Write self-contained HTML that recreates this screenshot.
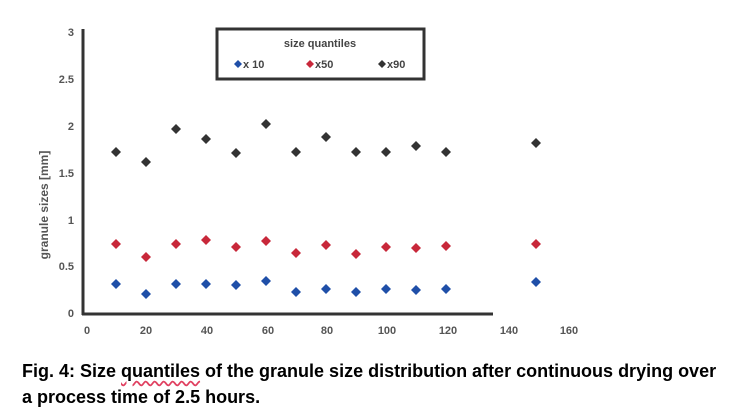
<!DOCTYPE html>
<html><head><style>
body{margin:0;background:#fff;width:735px;height:415px;overflow:hidden;position:relative;font-family:"Liberation Sans",sans-serif}
.cap{position:absolute;left:22px;font-weight:bold;font-size:18px;color:#000;white-space:nowrap}
</style></head><body>
<svg width="735" height="345" style="position:absolute;left:0;top:0" font-family="Liberation Sans, sans-serif" font-weight="bold">
<line x1="83" y1="29" x2="83" y2="315" stroke="#333" stroke-width="3"/>
<line x1="82" y1="314" x2="493" y2="314" stroke="#333" stroke-width="3"/>
<g font-size="11" fill="#555" text-anchor="end">
<text x="74" y="317">0</text><text x="74" y="270">0.5</text><text x="74" y="224">1</text>
<text x="74" y="177">1.5</text><text x="74" y="130">2</text><text x="74" y="83">2.5</text><text x="74" y="36">3</text>
</g>
<g font-size="11" fill="#555" text-anchor="middle">
<text x="87" y="334">0</text><text x="146" y="334">20</text><text x="207" y="334">40</text><text x="268" y="334">60</text>
<text x="327" y="334">80</text><text x="387" y="334">100</text><text x="448" y="334">120</text><text x="509" y="334">140</text><text x="569" y="334">160</text>
</g>
<text transform="translate(48,205) rotate(-90)" font-size="12" fill="#555" text-anchor="middle">granule sizes [mm]</text>
<rect x="217" y="29" width="207" height="50" fill="#fff" stroke="#333" stroke-width="3"/>
<text x="320" y="47" font-size="11" fill="#444" text-anchor="middle">size quantiles</text>
<g font-size="11" fill="#444">
<path d="M234 64l4 -4 4 4 -4 4z" fill="#1f4fa8"/><text x="243" y="68">x 10</text>
<path d="M306 64l4 -4 4 4 -4 4z" fill="#c8283a"/><text x="315" y="68">x50</text>
<path d="M378 64l4 -4 4 4 -4 4z" fill="#333"/><text x="387" y="68">x90</text>
</g>
<g id="pts"></g>
</svg>
<div class="cap" style="top:361px">Fig. 4: Size <span style="text-decoration:underline wavy #e04060;text-underline-offset:3px">quantiles</span> of the granule size distribution after continuous drying over</div>
<div class="cap" style="top:387px">a process time of 2.5 hours.</div>
<script>
var xs=[10,20,30,40,50,60,70,80,90,100,110,120,150];
var b=[284,294,284,284,285,281,292,289,292,289,290,289,282];
var r=[244,257,244,240,247,241,253,245,254,247,248,246,244];
var k=[152,162,129,139,153,124,152,137,152,152,146,152,143];
var g=document.getElementById('pts'),s='';
function d(x,y,c){return '<path d="M'+(x-5)+' '+y+'l5 -5 5 5 -5 5z" fill="'+c+'"/>';}
for(var i=0;i<xs.length;i++){var x=86+xs[i]*3;s+=d(x,b[i],'#1f4fa8')+d(x,r[i],'#c8283a')+d(x,k[i],'#333');}
g.innerHTML=s;
</script>
</body></html>
